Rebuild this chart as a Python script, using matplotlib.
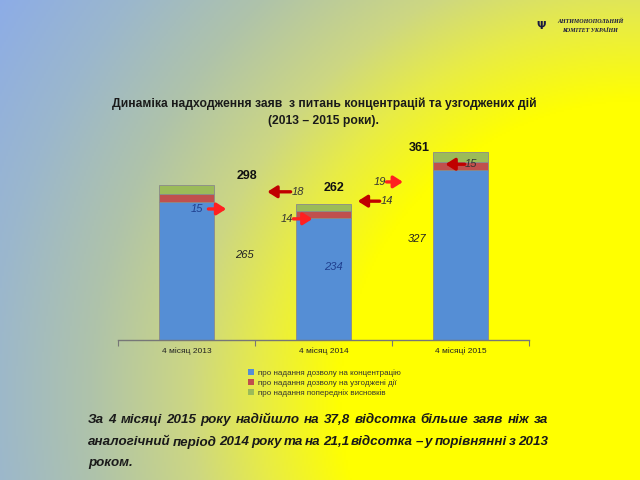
import numpy as np
import matplotlib
matplotlib.use("Agg")
import matplotlib.pyplot as plt
from matplotlib.patches import Patch

plt.rcParams['font.family'] = ['Liberation Sans', 'DejaVu Sans']

# data
categories = ['4 місяц 2013', '4 місяц 2014', '4 місяці 2015']
concentration = [265, 234, 327]
concerted = [15, 14, 15]
preliminary = [18, 14, 19]
totals = [298, 262, 361]
legend_labels = ['про надання дозволу на концентрацію',
                 'про надання дозволу на узгоджені дії',
                 'про надання попередніх висновків']

blue, red, green = '#558ED5', '#C0504D', '#9BBB59'

fig = plt.figure(figsize=(6.4, 4.8), dpi=100)

# background: radial gradient, yellow centre low on the right, blue far corner
bg = fig.add_axes([0, 0, 1, 1])
xx, yy = np.meshgrid(np.arange(0, 640, 2), np.arange(0, 480, 2))
d = np.sqrt((xx - 640) ** 2 + (yy - 400) ** 2)
stops = [0, 300, 380, 450, 550, 650, 760]
cols = np.array([[255, 255, 0], [255, 255, 0], [232, 236, 70], [205, 215, 130],
                 [175, 195, 170], [155, 183, 205], [140, 172, 232]]) / 255
img = np.stack([np.interp(d, stops, cols[:, k]) for k in range(3)], axis=-1)
bg.imshow(img, extent=[0, 1, 0, 1], aspect='auto', origin='upper')
bg.axis('off')

ax = fig.add_axes([118 / 640, 140 / 480, 411 / 640, 208 / 480])
ax.patch.set_alpha(0)
x = np.arange(len(categories))
w = 0.4
bot2 = np.array(concentration) + np.array(concerted)
ax.bar(x, concentration, w, color=blue, edgecolor='#8a8a8a', linewidth=0.6)
ax.bar(x, concerted, w, bottom=concentration, color=red, edgecolor='#8a8a8a', linewidth=0.6)
ax.bar(x, preliminary, w, bottom=bot2, color=green, edgecolor='#8a8a8a', linewidth=0.6)
ax.set_xlim(-0.5, 2.5)
ax.set_ylim(0, 400)
for sp in ['top', 'right', 'left']:
    ax.spines[sp].set_visible(False)
ax.spines['bottom'].set_color('#777777')
ax.spines['bottom'].set_linewidth(1.0)
ax.set_yticks([])
ax.set_xticks([-0.5, 0.5, 1.5, 2.5])
ax.set_xticklabels([])
ax.set_xticks(x, minor=True)
ax.set_xticklabels(categories, minor=True, fontsize=6, color='#222222')
ax.tick_params(axis='x', which='major', length=4, color='#777777')
ax.tick_params(axis='x', which='minor', length=0, pad=5)

# totals and values
tot_pos = [(0.44, 315), (1.08, 292), (1.70, 369)]
for (tx, ty), v in zip(tot_pos, totals):
    ax.text(tx, ty, str(v), fontsize=9, fontweight='bold', ha='center', va='center',
            color='#111111')
blue_pos = [(0.42, 163), (1.07, 140), (1.68, 194)]
blue_col = ['#222222', '#1F3F8F', '#222222']
for (tx, ty), v, c in zip(blue_pos, concentration, blue_col):
    ax.text(tx, ty, str(v), fontsize=8, style='italic', ha='center', va='center', color=c)

# small labels with arrows: (value, label xy, arrow start, arrow end, text color, arrow color)
small = [
    (concerted[0], (0.077, 252), (0.16, 252), (0.29, 252), '#1F3F8F', '#FF2020'),
    (preliminary[0], (0.81, 285), (0.76, 285), (0.59, 285), '#333333', '#C00000'),
    (concerted[1], (0.73, 233), (0.78, 233), (0.92, 233), '#333333', '#FF2020'),
    (preliminary[1], (1.46, 267), (1.41, 267), (1.25, 267), '#333333', '#C00000'),
    (preliminary[2], (1.41, 304), (1.46, 304), (1.58, 304), '#333333', '#FF2020'),
    (concerted[2], (2.08, 338), (2.03, 338), (1.89, 338), '#333333', '#C00000'),
]
for v, (lx, ly), st, en, tc, ac in small:
    ax.text(lx, ly, str(v), fontsize=8, style='italic', ha='center', va='center', color=tc)
    ax.annotate('', xy=en, xytext=st,
                arrowprops=dict(arrowstyle='-|>,head_length=0.55,head_width=0.35',
                                color=ac, lw=2.4, shrinkA=0, shrinkB=0))

# legend
handles = [Patch(facecolor=c, edgecolor='none') for c in (blue, red, green)]
fig.legend(handles, legend_labels, loc='upper left', bbox_to_anchor=(244 / 640, 1 - 365 / 480),
           frameon=False, fontsize=5.8, handlelength=0.8, handleheight=0.8,
           handletextpad=0.4, labelspacing=0.25, borderpad=0, labelcolor='#333333')

# title
fig.text(324 / 640, 1 - 104 / 480,
         'Динаміка надходження заяв  з питань концентрацій та узгоджених дій',
         ha='center', va='center', fontsize=8.7, fontweight='bold', color='#1a1a1a')
fig.text(323 / 640, 1 - 121 / 480, '(2013 – 2015 роки).',
         ha='center', va='center', fontsize=8.7, fontweight='bold', color='#1a1a1a')

# logo
fig.text(590 / 640, 1 - 21 / 480, 'АНТИМОНОПОЛЬНИЙ', ha='center', va='center',
         fontsize=4.3, fontweight='bold', style='italic', family='Liberation Serif',
         color='#1a1a40')
fig.text(590 / 640, 1 - 30 / 480, 'КОМІТЕТ УКРАЇНИ', ha='center', va='center',
         fontsize=4.3, fontweight='bold', style='italic', family='Liberation Serif',
         color='#1a1a40')
fig.text(541 / 640, 1 - 26 / 480, 'Ψ', ha='center', va='center', fontsize=8,
         fontweight='bold', color='#1a1a40', family='DejaVu Sans')

# justified bottom text
lines = ['За 4 місяці 2015 року надійшло на 37,8 відсотка більше заяв ніж за',
         'аналогічний період 2014 року та на 21,1 відсотка – у порівнянні з 2013',
         'роком.']
left, right = 88 / 640, 548 / 640
ys = [420, 442, 463]
fig.canvas.draw()
r = fig.canvas.get_renderer()
for i, (line, py) in enumerate(zip(lines, ys)):
    words = line.split(' ')
    kw = dict(fontsize=9.6, fontweight='bold', style='italic', color='#1a1a1a', va='center')
    if i == len(lines) - 1:
        fig.text(left, 1 - py / 480, line, ha='left', **kw)
        continue
    ts = [fig.text(0, 1 - py / 480, wd, ha='left', **kw) for wd in words]
    widths = [t.get_window_extent(r).width / fig.bbox.width for t in ts]
    gap = (right - left - sum(widths)) / (len(words) - 1)
    cx = left
    for t, wdt in zip(ts, widths):
        t.set_x(cx)
        cx += wdt + gap

fig.savefig('out.png', dpi=100)
